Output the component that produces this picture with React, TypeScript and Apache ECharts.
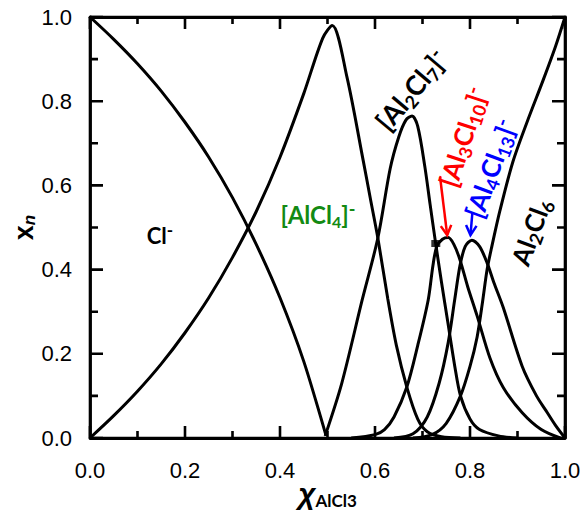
import { useEffect, useRef } from 'react';
import * as echarts from 'echarts';

const xTickValues = [0, 0.2, 0.4, 0.6, 0.8, 1.0];
const yTickValues = [0, 0.2, 0.4, 0.6, 0.8, 1.0];

const clMinus = [[0, 1], [0.05, 0.947], [0.1, 0.889], [0.15, 0.824], [0.2, 0.75], [0.25, 0.667], [0.3, 0.571], [0.35, 0.46], [0.4, 0.333], [0.45, 0.182], [0.497, 0.005]];
const alcl4 = [[0, 0], [0.05, 0.053], [0.1, 0.111], [0.15, 0.176], [0.2, 0.25], [0.25, 0.333], [0.3, 0.429], [0.35, 0.538], [0.4, 0.667], [0.45, 0.818], [0.49, 0.95], [0.51, 0.98], [0.541, 0.857], [0.575, 0.66], [0.59, 0.57], [0.606, 0.475], [0.627, 0.33], [0.645, 0.22], [0.667, 0.121], [0.69, 0.045], [0.71, 0.015], [0.74, 0.003], [0.78, 0]];
const al2cl7 = [[0.495, 0.005], [0.53, 0.13], [0.573, 0.328], [0.606, 0.475], [0.632, 0.64], [0.65, 0.715], [0.665, 0.755], [0.678, 0.765], [0.69, 0.74], [0.705, 0.644], [0.716, 0.555], [0.728, 0.46], [0.74, 0.37], [0.754, 0.27], [0.768, 0.17], [0.78, 0.1], [0.8, 0.045], [0.82, 0.02], [0.86, 0.005], [0.9, 0]];
const al3cl10 = [[0.55, 0], [0.6, 0.008], [0.62, 0.02], [0.64, 0.05], [0.667, 0.121], [0.69, 0.22], [0.712, 0.328], [0.722, 0.41], [0.73, 0.455], [0.742, 0.472], [0.754, 0.476], [0.766, 0.46], [0.779, 0.423], [0.795, 0.36], [0.815, 0.29], [0.842, 0.19], [0.87, 0.12], [0.91, 0.06], [0.95, 0.02], [0.99, 0]];
const al4cl13 = [[0.64, 0], [0.68, 0.01], [0.71, 0.05], [0.735, 0.13], [0.754, 0.226], [0.768, 0.33], [0.779, 0.41], [0.79, 0.455], [0.804, 0.47], [0.82, 0.455], [0.836, 0.416], [0.85, 0.37], [0.87, 0.31], [0.91, 0.17], [0.94, 0.1], [0.96, 0.065], [0.98, 0.03], [1.0, 0]];
const al2cl6 = [[0.68, 0], [0.72, 0.008], [0.75, 0.035], [0.78, 0.1], [0.8, 0.17], [0.815, 0.24], [0.826, 0.32], [0.836, 0.4], [0.845, 0.45], [0.863, 0.54], [0.89, 0.655], [0.92, 0.75], [0.954, 0.85], [0.98, 0.93], [1.0, 1.0]];
const junctionDot = [[0.728, 0.462]];

const seriesList = [clMinus, alcl4, al2cl7, al3cl10, al4cl13, al2cl6];

// annotation anchors (data coordinates)
const labelCl = [0.147, 0.482];
const labelAlCl4 = [0.48, 0.53];
const labelAl2Cl7 = [0.676, 0.827];
const labelAl3Cl10 = [0.785, 0.715];
const labelAl4Cl13 = [0.843, 0.64];
const labelAl2Cl6 = [0.928, 0.49];
const redArrow = [[0.737, 0.62], [0.752, 0.482]];
const blueArrow = [[0.805, 0.535], [0.801, 0.482]];

const W = 582, H = 512;
const GRID = { left: 90, right: 17, top: 17, bottom: 74 };
const PLOT_W = W - GRID.left - GRID.right;
const PLOT_H = H - GRID.top - GRID.bottom;

const FONT = 'Lato, "Open Sans", sans-serif';
const AXFONT = '"Liberation Sans", Arial, sans-serif';

function richFor(color: string, size: number) {
  return {
    b: { fill: color, fontSize: size, fontWeight: 'bold', fontFamily: FONT, lineHeight: size + 6, verticalAlign: 'middle' },
    s: { fill: color, fontSize: Math.round(size * 0.68), fontWeight: 'bold', fontFamily: FONT, lineHeight: Math.round(size * 0.58), verticalAlign: 'bottom' },
    p: { fill: color, fontSize: Math.round(size * 0.75), fontWeight: 'bold', fontFamily: FONT, lineHeight: Math.round(size * 0.55), verticalAlign: 'top' },
  };
}

// major + minor (midpoint) tick positions
function withMinor(vals: number[]) {
  const out: { v: number; major: boolean }[] = [];
  vals.forEach((v, i) => {
    out.push({ v, major: true });
    if (i < vals.length - 1) out.push({ v: (v + vals[i + 1]) / 2, major: false });
  });
  return out;
}

// inward ticks drawn as a back-and-forth path along each frame side
function tickPath(side: 'bottom' | 'top' | 'left' | 'right') {
  const pts: number[][] = [];
  if (side === 'bottom' || side === 'top') {
    const base = side === 'bottom' ? 0 : 1;
    const dir = side === 'bottom' ? 1 : -1;
    withMinor(xTickValues).forEach(({ v, major }) => {
      const len = (major ? 12 : 7) / PLOT_H;
      pts.push([v, base], [v, base + dir * len], [v, base]);
    });
  } else {
    const base = side === 'left' ? 0 : 1;
    const dir = side === 'left' ? 1 : -1;
    withMinor(yTickValues).forEach(({ v, major }) => {
      const len = (major ? 13 : 8) / PLOT_W;
      pts.push([base, v], [base + dir * len, v], [base, v]);
    });
  }
  return pts;
}

export default function App() {
  const ref = useRef<HTMLDivElement>(null);
  useEffect(() => {
    const chart = echarts.init(ref.current!, null, { renderer: 'svg' });
    const axisCommon = {
      type: 'value' as const,
      min: 0,
      max: 1,
      interval: 0.2,
      axisLine: { show: true, onZero: false, lineStyle: { color: '#000', width: 2.8 } },
      axisTick: { show: false },
      minorTick: { show: false },
      splitLine: { show: false },
      minorSplitLine: { show: false },
      nameMoveOverlap: false,
    };
    chart.setOption({
      animation: false,
      backgroundColor: '#fff',
      grid: { ...GRID, containLabel: false, outerBoundsMode: 'none' },
      xAxis: [
        {
          ...axisCommon,
          position: 'bottom',
          axisLabel: {
            fontSize: 22, color: '#000', fontFamily: AXFONT, margin: 21,
            formatter: (v: number) => v.toFixed(1),
          },
          name: '{c|χ}{s|AlCl3}',
          nameLocation: 'middle',
          nameGap: 39,
          nameTextStyle: {
            rich: {
              c: { fontSize: 30, fontWeight: 'bold', fontStyle: 'italic', fontFamily: AXFONT, color: '#000', lineHeight: 32, verticalAlign: 'middle' },
              s: { fontSize: 17, fontWeight: 'bold', fontFamily: FONT, color: '#000', lineHeight: 16, verticalAlign: 'bottom' },
            },
          },
        },
        { ...axisCommon, position: 'top', axisLabel: { show: false } },
      ],
      yAxis: [
        {
          ...axisCommon,
          position: 'left',
          axisLabel: {
            fontSize: 22, color: '#000', fontFamily: AXFONT, margin: 18,
            formatter: (v: number) => v.toFixed(1),
          },
          name: '{x|x}{n|n}',
          nameLocation: 'middle',
          nameRotate: 90,
          nameGap: 52,
          nameTextStyle: {
            rich: {
              x: { fontSize: 27, fontWeight: 'bold', fontFamily: AXFONT, color: '#000', lineHeight: 28, verticalAlign: 'middle' },
              n: { fontSize: 17, fontWeight: 'bold', fontStyle: 'italic', fontFamily: AXFONT, color: '#000', lineHeight: 14, verticalAlign: 'bottom' },
            },
          },
        },
        { ...axisCommon, position: 'right', axisLabel: { show: false } },
      ],
      series: [
        ...seriesList.map((d) => ({
          type: 'line',
          data: d,
          showSymbol: false,
          smooth: 0.3,
          lineStyle: { color: '#000', width: 3 },
          xAxisIndex: 0,
          yAxisIndex: 0,
          z: 3,
        })),
        {
          type: 'scatter',
          data: junctionDot,
          symbol: 'rect',
          symbolSize: [9, 7],
          itemStyle: { color: '#000' },
          z: 4,
        },
        ...(['bottom', 'top', 'left', 'right'] as const).map((side) => ({
          type: 'line',
          data: tickPath(side),
          showSymbol: false,
          clip: false,
          silent: true,
          smooth: false,
          lineStyle: { color: '#000', width: 2.6, join: 'bevel', cap: 'butt' },
          xAxisIndex: 0,
          yAxisIndex: 0,
          z: 5,
        })),
      ],
    });

    const P = (pt: number[]) => chart.convertToPixel({ seriesIndex: 0 }, pt) as number[];
    const deg = (a: number) => (a * Math.PI) / 180;
    const mkText = (pt: number[], text: string, color: string, size: number, rot: number) => {
      const [x, y] = P(pt);
      return {
        type: 'text',
        x, y,
        rotation: deg(rot),
        z: 10,
        style: { text, rich: richFor(color, size), align: 'center', verticalAlign: 'middle', fill: color },
      };
    };
    const mkArrow = (pts: number[][], color: string) => {
      const a = P(pts[0]);
      const b = P(pts[1]);
      const ang = Math.atan2(b[1] - a[1], b[0] - a[0]);
      const L = 11, w = 0.5;
      const h1 = [b[0] - L * Math.cos(ang - w), b[1] - L * Math.sin(ang - w)];
      const h2 = [b[0] - L * Math.cos(ang + w), b[1] - L * Math.sin(ang + w)];
      return [
        { type: 'line', z: 10, shape: { x1: a[0], y1: a[1], x2: b[0], y2: b[1] }, style: { stroke: color, lineWidth: 2.5 } },
        { type: 'polyline', z: 10, shape: { points: [h1, b, h2] }, style: { stroke: color, lineWidth: 2.5, fill: null } },
      ];
    };

    chart.setOption({
      graphic: [
        mkText(labelCl, '{b|Cl}{p|-}', '#000', 22, 0),
        mkText(labelAlCl4, '{b|[AlCl}{s|4}{b|]}{p|-}', '#138a13', 24, 0),
        mkText(labelAl2Cl7, '{b|[Al}{s|2}{b|Cl}{s|7}{b|]}{p|-}', '#000', 27, 50),
        mkText(labelAl3Cl10, '{b|[Al}{s|3}{b|Cl}{s|10}{b|]}{p|-}', '#ff0000', 26, 72),
        mkText(labelAl4Cl13, '{b|[Al}{s|4}{b|Cl}{s|13}{b|]}{p|-}', '#0000ff', 26, 70),
        mkText(labelAl2Cl6, '{b|Al}{s|2}{b|Cl}{s|6}', '#000', 26, 70),
        ...mkArrow(redArrow, '#ff0000'),
        ...mkArrow(blueArrow, '#0000ff'),
      ],
    });
    return () => chart.dispose();
  }, []);
  return <div ref={ref} style={{ position: 'fixed', left: 0, top: 0, width: W, height: H }} />;
}
